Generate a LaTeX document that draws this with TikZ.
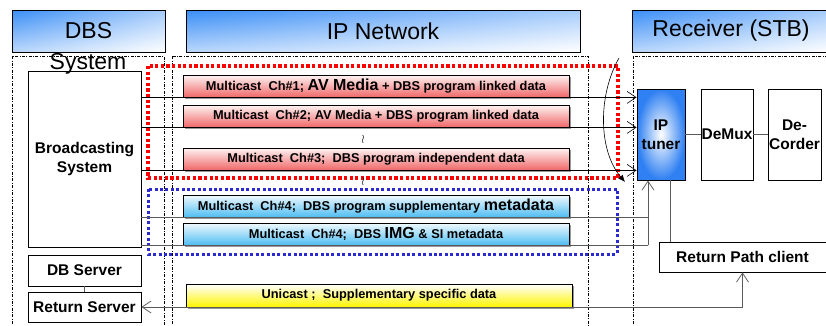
\documentclass[tikz,border=0pt]{standalone}
\usepackage{fontspec}
\setmainfont{Liberation Sans}
\usetikzlibrary{arrows.meta,positioning,shadows,shadings}
\definecolor{hdrblue}{HTML}{3A8EF6}
\definecolor{chred}{HTML}{F06868}
\definecolor{chblue}{HTML}{4FBDF2}
\definecolor{chyellow}{HTML}{FFF500}
\definecolor{tunerblue}{HTML}{2F80F2}
\definecolor{linegray}{HTML}{5A5A5A}
\definecolor{dotred}{HTML}{FF0000}
\definecolor{dotblue}{HTML}{2A2AD0}
\newcommand{\chbig}[1]{{\fontsize{16}{18}\selectfont #1}}
\tikzset{
  hdrbox/.style={draw, line width=0.9pt, minimum height=42pt, inner sep=0pt,
    font=\fontsize{23}{25}\selectfont, upper left=hdrblue, upper right=hdrblue!45,
    lower left=hdrblue!35, lower right=white},
  sysbox/.style={draw, line width=0.8pt, fill=white, inner sep=0pt, align=center,
    font=\bfseries\fontsize{15.5}{19}\selectfont},
  chbox/.style={draw, line width=0.8pt, inner sep=0pt, minimum width=386pt,
    minimum height=22pt, font=\bfseries\fontsize{12.8}{14}\selectfont,
    drop shadow={shadow xshift=1.5pt, shadow yshift=-1.5pt, opacity=1, fill=gray!80}},
  colline/.style={line width=0.5pt, dash pattern=on 3pt off 1.5pt on 0.8pt off 1.5pt},
  reddot/.style={draw=dotred, line width=3.4pt, dash pattern=on 3.2pt off 2.4pt},
  bluedot/.style={draw=dotblue, line width=3pt, dash pattern=on 3pt off 2.4pt},
  gapmark/.style={inner sep=0pt, font=\large},
  arr/.style={-{Straight Barb[length=9pt, width=12pt]}, line width=0.6pt},
  gline/.style={draw=linegray, line width=0.8pt}
}
\begin{document}
\begin{tikzpicture}[x=1pt,y=-1pt]
  \useasboundingbox (0,0) rectangle (826,325);
  % headers
  \node[hdrbox, minimum width=153pt] (hdbs) at (88.5,31) {DBS};
  \node[hdrbox, minimum width=394pt] (hnet) at (383,31) {IP Network};
  \node[hdrbox, minimum width=198pt] (hrcv) at (731,31) {Receiver (STB)};
  % columns
  \draw[colline] (12,56) rectangle (164,332);
  \draw[colline] (172,56) rectangle (588,332);
  \draw[colline] (633,56) rectangle (832,332);
  % channel groups
  \draw[reddot] (148,66) rectangle (618,178);
  \draw[bluedot] (148,189) rectangle (617,254);
  % DBS side
  \node[sysbox, minimum width=113pt, minimum height=176pt] (bcs) at (84.5,159) {Broadcasting\\System};
  \node[font=\fontsize{23}{25}\selectfont, inner sep=0pt] (syslab) at (88,64) {System};
  \node[sysbox, minimum width=113pt, minimum height=31pt] (dbsrv) at (84.5,270.5) {DB Server};
  \node[sysbox, minimum width=113pt, minimum height=30pt] (retsrv) at (84.5,307) {Return Server};
  \draw[gline] (dbsrv.south) -- (retsrv.north);
  % receiver
  \node[sysbox, minimum width=48pt, minimum height=91pt, shading=radial,
    inner color=white, outer color=tunerblue] (tuner) at (661,134.5) {IP\\tuner};
  \node[sysbox, minimum width=52pt, minimum height=91pt] (demux) at (727,134.5) {DeMux};
  \node[sysbox, minimum width=53pt, minimum height=91pt] (decoder) at (794.5,134.5) {De-\\Corder};
  \node[sysbox, minimum width=167pt, minimum height=30pt] (rpc) at (742.5,257) {Return Path client};
  \draw[gline] (tuner) -- (demux);
  \draw[gline] (demux) -- (decoder);
  % channels
  \foreach \n/\y/\col/\txt in {
    ch1/86/chred/{Multicast~ Ch\#1; \chbig{AV Media} + DBS program linked data},
    ch2/116/chred/{Multicast~ Ch\#2; AV Media + DBS program linked data},
    ch3/159/chred/{Multicast~ Ch\#3;~ DBS program independent data},
    ch4/206/chblue/{Multicast~ Ch\#4;~ DBS program supplementary \chbig{metadata}},
    ch5/234/chblue/{Multicast~ Ch\#4;~ DBS \chbig{IMG} \& SI metadata}} {
    \node[chbox, top color=\col!8, bottom color=\col] (\n) at (376,\y) {\txt};
  }
  \node[chbox, minimum height=23pt, top color=white, bottom color=chyellow] (uni)
    at (379,295.5) {Unicast ;~ Supplementary specific data};
  \node[gapmark] (gap1) at (363,139) {$\wr$};
  \node[gapmark] (gap2) at (363,181) {$\wr$};
  % multicast arrows
  \foreach \c in {ch1,ch2,ch3}
    \draw[arr] (bcs.east |- \c.south) -- (tuner.west |- \c.south);
  \draw[gline] (bcs.east |- ch4.south) -- ([xshift=-13pt]tuner.south |- ch4.south);
  \draw[gline] (bcs.east |- ch5.south) -- ([xshift=-13pt]tuner.south |- ch5.south);
  \draw[arr, draw=linegray, line width=0.8pt] ([xshift=-13pt]tuner.south |- ch5.south) -- ([xshift=-13pt]tuner.south);
  \draw[gline] ([xshift=9pt]tuner.south) -- ([xshift=9pt]tuner.south |- rpc.north);
  % return path
  \draw[arr, {Straight Barb[length=9pt, width=12pt]}-{Straight Barb[length=9pt, width=12pt]}, draw=linegray, line width=0.8pt]
    (retsrv.east) -- (rpc.south |- retsrv.east) -- (rpc.south);
  % channel change
  \coordinate (cvtop) at (619,58);
  \coordinate (cvend) at (625,182);
  \draw[-{Latex[length=7pt, width=6pt]}, line width=0.6pt] (cvtop) .. controls (598,95) and (598,150) .. (cvend);
\end{tikzpicture}
\end{document}
